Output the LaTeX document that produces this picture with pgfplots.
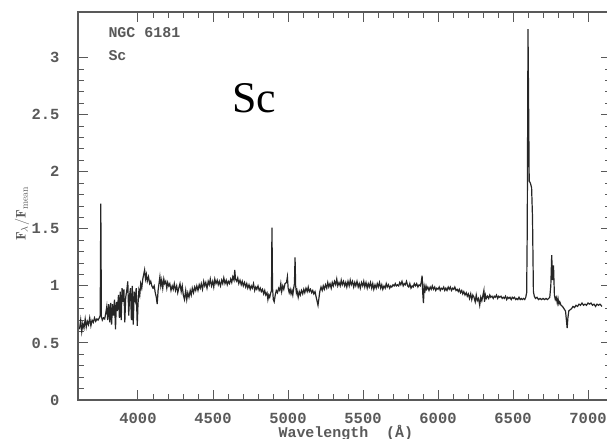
\documentclass[border=0pt]{standalone}
\usepackage{fontspec}
\usepackage{pgfplots}
\pgfplotsset{compat=1.18}
\newfontfamily\plotfont{Liberation Mono}
\newfontfamily\timesfont{Liberation Serif}
\definecolor{framegray}{gray}{0.35}
\definecolor{textgray}{gray}{0.35}

\begin{document}
\begin{tikzpicture}
\begin{axis}[
  at={(0,0)}, anchor=south west,
  scale only axis,
  width=532.5bp, height=388bp,
  xmin=3600, xmax=7150,
  ymin=0, ymax=3.4,
  xtick={4000,4500,...,7000},
  minor x tick num=4,
  ytick={0,0.5,...,3},
  minor y tick num=4,
  tick align=inside,
  major tick length=10bp,
  minor tick length=6bp,
  every tick/.style={framegray, line width=1bp},
  axis line style={framegray, line width=1.3bp},
  /pgf/number format/assume math mode=true,
  /pgf/number format/1000 sep={},
  tick label style={font=\plotfont\bfseries\fontsize{15.5}{16}\selectfont, text=textgray},
  xticklabel style={anchor=base, yshift=-23bp},
  yticklabel style={anchor=east, xshift=-15bp},
  every axis x label/.style={at={(axis description cs:0.503,0)}, anchor=base, yshift=-37bp,
    font=\plotfont\bfseries\fontsize{15}{16}\selectfont, text=textgray},
  every axis y label/.style={at={(axis description cs:-0.105,0.48)}, rotate=90, anchor=center,
    font=\fontsize{14}{16}\selectfont, text=textgray},
  xlabel={Wavelength\ \ (\AA)},
  ylabel={$\mathbf{F_\lambda/F_{\rm mean}}$},
]
\addplot[black!85, line width=1.2bp] coordinates {
(3610,0.62) (3618,0.70) (3625,0.60) (3632,0.67) (3640,0.63) (3648,0.71) (3655,0.64) (3662,0.69)
(3670,0.66) (3678,0.72) (3686,0.65) (3694,0.70) (3702,0.68) (3710,0.72) (3718,0.69) (3726,0.71)
(3734,0.70) (3742,0.72) (3748,0.74) (3752,1.72) (3756,0.73) (3762,0.70) (3770,0.72) (3778,0.71)
(3785,0.76) (3792,0.82) (3798,0.70) (3805,0.84) (3812,0.68) (3818,0.85) (3824,0.66) (3830,0.84)
(3837,0.74) (3843,0.88) (3850,0.62) (3856,0.86) (3862,0.78) (3870,0.92) (3876,0.72) (3882,0.95)
(3888,0.70) (3894,0.98) (3900,0.86) (3906,0.97) (3912,0.68) (3918,0.90) (3925,0.96) (3932,1.04)
(3938,0.74) (3945,0.93) (3950,0.98) (3956,0.70) (3962,1.00) (3968,0.66) (3975,0.95) (3982,0.88)
(3988,0.98) (3995,0.65) (4000,0.84) (4006,0.96) (4012,0.92) (4018,1.02) (4025,0.98) (4032,1.06)
(4038,1.10) (4044,1.14) (4050,1.06) (4056,1.10) (4062,1.04) (4070,1.08) (4078,1.02) (4085,1.04)
(4092,1.00) (4100,0.98) (4108,1.00) (4115,0.94) (4122,0.90) (4128,0.84) (4134,0.96) (4140,1.02)
(4146,1.08) (4152,1.00) (4158,1.05) (4165,0.98) (4172,1.06) (4178,1.02) (4185,1.04) (4192,0.98)
(4198,1.03) (4205,1.00) (4212,1.02) (4220,0.96) (4228,1.00) (4235,0.97) (4242,1.02) (4250,0.96)
(4258,1.00) (4265,0.94) (4272,0.98) (4280,1.02) (4288,0.95) (4295,1.00) (4302,0.92) (4310,0.88)
(4318,0.96) (4325,0.88) (4332,0.94) (4340,0.90) (4348,0.96) (4355,0.92) (4362,0.98) (4370,0.94)
(4378,0.99) (4385,0.96) (4392,1.00) (4400,0.96) (4408,1.01) (4415,0.98) (4422,1.02) (4430,0.97)
(4438,1.04) (4445,1.00) (4452,1.03) (4460,0.98) (4468,1.04) (4475,1.01) (4482,1.06) (4490,1.00)
(4498,1.04) (4505,0.99) (4512,1.06) (4520,1.02) (4528,1.05) (4535,1.01) (4542,1.04) (4550,1.00)
(4558,1.05) (4565,1.02) (4572,1.07) (4580,1.02) (4588,1.05) (4595,1.01) (4602,1.04) (4610,1.02)
(4618,1.06) (4625,1.03) (4632,1.08) (4640,1.05) (4645,1.14) (4650,1.06) (4658,1.04) (4665,1.07)
(4672,1.02) (4680,1.05) (4688,1.01) (4695,1.04) (4702,1.00) (4710,1.03) (4718,0.99) (4725,1.02)
(4732,0.98) (4740,1.01) (4748,0.97) (4755,1.00) (4762,0.98) (4770,1.02) (4778,0.96) (4785,0.99)
(4792,0.97) (4800,1.00) (4808,0.96) (4815,0.98) (4822,0.95) (4830,0.97) (4838,0.93) (4845,0.96)
(4852,0.92) (4860,0.94) (4866,0.88) (4872,0.92) (4878,0.90) (4885,0.94) (4890,0.96) (4893,1.51)
(4897,0.98) (4902,0.88) (4908,0.86) (4915,0.92) (4922,0.96) (4930,0.94) (4938,0.98) (4945,0.96)
(4952,1.02) (4958,0.95) (4965,1.00) (4972,0.97) (4980,1.02) (4990,1.03) (4996,1.08) (5001,0.98)
(5008,0.94) (5014,0.97) (5020,0.93) (5026,0.96) (5032,0.92) (5038,0.98) (5043,1.02) (5047,1.25)
(5051,1.00) (5056,0.94) (5060,0.96) (5068,0.90) (5075,0.95) (5082,0.92) (5090,0.96) (5098,0.93)
(5105,0.97) (5112,0.94) (5120,0.98) (5128,0.95) (5135,0.99) (5142,0.95) (5150,0.97) (5158,0.94)
(5165,0.96) (5172,0.93) (5180,0.95) (5188,0.90) (5195,0.86) (5200,0.83) (5205,0.88) (5212,0.95)
(5220,0.99) (5228,0.96) (5235,1.00) (5242,0.97) (5250,1.01) (5258,0.98) (5265,1.03) (5272,0.99)
(5280,1.02) (5288,0.98) (5295,1.03) (5302,1.00) (5310,1.04) (5318,1.01) (5325,1.06) (5332,1.00)
(5340,1.03) (5348,1.00) (5355,1.05) (5362,1.01) (5370,1.04) (5378,1.00) (5385,1.03) (5392,0.99)
(5400,1.04) (5408,1.00) (5415,1.05) (5422,1.01) (5430,1.04) (5438,0.99) (5445,1.03) (5452,1.00)
(5460,1.04) (5468,0.99) (5475,1.02) (5482,0.98) (5490,1.03) (5498,1.00) (5505,1.04) (5512,0.99)
(5520,1.03) (5528,0.98) (5535,1.02) (5542,0.99) (5550,1.03) (5558,0.98) (5565,1.02) (5572,0.97)
(5580,1.01) (5588,0.98) (5595,1.02) (5602,0.99) (5610,1.03) (5618,0.98) (5625,1.01) (5632,0.97)
(5640,1.00) (5648,0.98) (5655,1.02) (5662,0.99) (5670,1.01) (5678,0.98) (5685,1.00) (5692,0.99)
(5700,1.01) (5708,1.00) (5715,1.02) (5722,1.00) (5730,1.01) (5738,1.00) (5745,1.03) (5752,1.01)
(5760,1.04) (5768,1.00) (5775,1.02) (5782,1.01) (5790,1.04) (5798,1.00) (5805,0.99) (5812,1.02)
(5820,0.98) (5828,1.00) (5835,0.99) (5842,1.02) (5850,1.00) (5858,1.02) (5866,0.99) (5874,1.01)
(5882,1.00) (5888,1.03) (5894,1.09) (5898,0.94) (5903,0.85) (5908,1.00) (5914,0.96) (5920,1.00)
(5925,0.97) (5932,0.99) (5940,0.96) (5948,0.99) (5955,0.97) (5962,1.00) (5970,0.97) (5978,0.99)
(5985,0.96) (5992,0.98) (6000,0.97) (6008,0.99) (6015,0.96) (6022,0.98) (6030,0.97) (6038,0.99)
(6045,0.96) (6052,0.98) (6060,0.96) (6068,0.99) (6075,0.97) (6082,0.99) (6090,0.96) (6098,0.98)
(6105,0.97) (6112,0.99) (6120,0.96) (6128,0.97) (6135,0.95) (6142,0.97) (6150,0.94) (6158,0.96)
(6165,0.93) (6172,0.95) (6180,0.92) (6188,0.94) (6195,0.91) (6202,0.93) (6210,0.89) (6218,0.93)
(6225,0.88) (6232,0.92) (6240,0.90) (6248,0.86) (6255,0.92) (6262,0.87) (6270,0.89) (6278,0.83)
(6285,0.90) (6292,0.87) (6300,0.92) (6306,0.96) (6310,0.86) (6316,0.92) (6322,0.89) (6330,0.91)
(6338,0.89) (6345,0.92) (6352,0.90) (6360,0.91) (6368,0.89) (6375,0.91) (6382,0.90) (6390,0.92)
(6398,0.89) (6405,0.91) (6412,0.90) (6420,0.91) (6428,0.89) (6435,0.90) (6442,0.89) (6450,0.91)
(6458,0.88) (6465,0.90) (6472,0.89) (6480,0.90) (6488,0.88) (6495,0.90) (6502,0.89) (6510,0.90)
(6518,0.88) (6525,0.89) (6532,0.88) (6540,0.90) (6548,0.88) (6555,0.89) (6562,0.88) (6570,0.89)
(6578,0.88) (6585,0.90) (6591,0.94) (6595,1.50) (6600,3.25) (6604,2.60) (6608,1.92) (6616,1.90)
(6624,1.86) (6630,1.60) (6636,0.95) (6642,0.91) (6650,0.89) (6660,0.90) (6670,0.88) (6680,0.89)
(6690,0.88) (6700,0.89) (6710,0.88) (6720,0.89) (6730,0.88) (6738,0.89) (6745,0.90) (6752,1.00)
(6758,1.27) (6764,1.05) (6770,1.18) (6776,0.92) (6782,0.88) (6788,0.90) (6795,0.85) (6800,0.89)
(6806,0.84) (6812,0.86) (6820,0.83) (6830,0.82) (6840,0.80) (6850,0.78) (6856,0.70) (6861,0.63)
(6866,0.72) (6872,0.78) (6880,0.79) (6890,0.80) (6900,0.82) (6910,0.81) (6920,0.83) (6930,0.82)
(6940,0.84) (6950,0.83) (6960,0.85) (6970,0.83) (6980,0.84) (6990,0.83) (7000,0.85) (7010,0.84)
(7020,0.85) (7030,0.83) (7040,0.84) (7050,0.82) (7060,0.84) (7070,0.83) (7080,0.84) (7093,0.82)
};
\node[anchor=base west, font=\plotfont\bfseries\fontsize{15}{16}\selectfont, text=textgray]
  at (rel axis cs:0.0507,0.933) {NGC 6181};
\node[anchor=base west, font=\plotfont\bfseries\fontsize{15}{16}\selectfont, text=textgray]
  at (rel axis cs:0.0507,0.876) {Sc};
\node[anchor=base west, inner sep=0pt, font=\timesfont\fontsize{44}{48}\selectfont]
  at (rel axis cs:0.289,0.742) {Sc};
\end{axis}
\pgfresetboundingbox
\useasboundingbox (-78bp,-39bp) rectangle (529bp,400bp);
\end{tikzpicture}
\end{document}
